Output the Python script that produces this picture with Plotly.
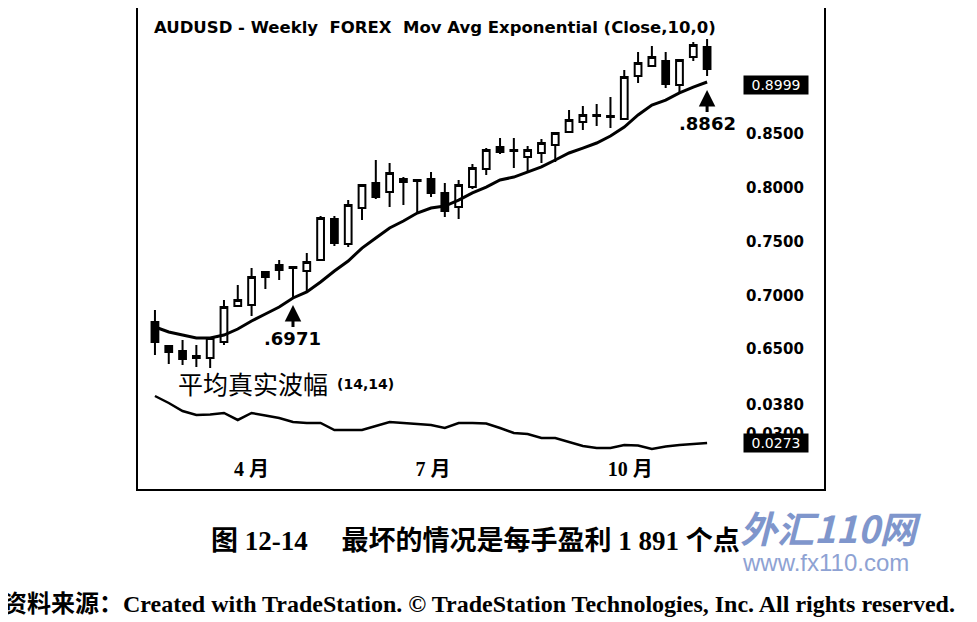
import plotly.graph_objects as go
import pandas as pd

# weekly AUDUSD bars
weeks = pd.date_range("2009-02-13", periods=41, freq="7D").strftime("%Y-%m-%d").tolist()

opens = [0.6751, 0.6528, 0.6481, 0.6435, 0.6416, 0.6565, 0.6900, 0.6910, 0.7217, 0.7282,
         0.7254, 0.7226, 0.7329, 0.7710, 0.7478, 0.7813, 0.8046, 0.7962, 0.8083, 0.8074,
         0.8083, 0.7953, 0.7822, 0.8008, 0.8176, 0.8381, 0.8353, 0.8288, 0.8325, 0.8399,
         0.8520, 0.8614, 0.8669, 0.8660, 0.8642, 0.9042, 0.9135, 0.9182, 0.8958, 0.9219,
         0.9312]
highs = [0.6863, 0.6537, 0.6584, 0.6537, 0.6612, 0.6956, 0.7096, 0.7254, 0.7226, 0.7329,
         0.7273, 0.7394, 0.7738, 0.7738, 0.7887, 0.8036, 0.8260, 0.8232, 0.8101, 0.8083,
         0.8148, 0.8046, 0.8074, 0.8223, 0.8371, 0.8465, 0.8465, 0.8390, 0.8455, 0.8520,
         0.8725, 0.8763, 0.8781, 0.8846, 0.9098, 0.9265, 0.9321, 0.9265, 0.9200, 0.9358,
         0.9386]
lows = [0.6444, 0.6360, 0.6351, 0.6332, 0.6323, 0.6537, 0.6891, 0.6807, 0.7059, 0.7142,
        0.6966, 0.7031, 0.7319, 0.7459, 0.7450, 0.7701, 0.7897, 0.7822, 0.7841, 0.7776,
        0.7915, 0.7729, 0.7710, 0.7990, 0.8120, 0.8316, 0.8185, 0.8157, 0.8232, 0.8241,
        0.8511, 0.8539, 0.8576, 0.8558, 0.8632, 0.8977, 0.9126, 0.8930, 0.8884, 0.9182,
        0.9042]
closes = [0.6565, 0.6472, 0.6407, 0.6416, 0.6602, 0.6891, 0.6956, 0.7170, 0.7170, 0.7236,
          0.7263, 0.7310, 0.7720, 0.7487, 0.7841, 0.8027, 0.7915, 0.8139, 0.8055, 0.8064,
          0.7953, 0.7785, 0.8027, 0.8185, 0.8353, 0.8334, 0.8344, 0.8353, 0.8418, 0.8511,
          0.8632, 0.8679, 0.8679, 0.8669, 0.9033, 0.9163, 0.9219, 0.8967, 0.9191, 0.9331,
          0.9107]

# Mov Avg Exponential (Close,10,0), as drawn
ema10 = [0.6705, 0.6658, 0.6630, 0.6602, 0.6602, 0.6630, 0.6686, 0.6761, 0.6826, 0.6891,
         0.6975, 0.7031, 0.7124, 0.7226, 0.7319, 0.7440, 0.7534, 0.7627, 0.7692, 0.7766,
         0.7813, 0.7831, 0.7887, 0.7953, 0.8008, 0.8074, 0.8101, 0.8148, 0.8195, 0.8260,
         0.8325, 0.8371, 0.8418, 0.8483, 0.8567, 0.8679, 0.8772, 0.8818, 0.8884, 0.8939,
         0.8986]

# average true range (14,14)
atr = [0.04053, 0.03856, 0.03631, 0.03518, 0.03532, 0.03575, 0.03378, 0.03575, 0.03504, 0.03434,
       0.03321, 0.03293, 0.03293, 0.03096, 0.03096, 0.03096, 0.03209, 0.03321, 0.03293, 0.03265,
       0.03237, 0.03152, 0.03293, 0.03293, 0.03279, 0.03152, 0.03011, 0.02983, 0.02871, 0.02871,
       0.02758, 0.02645, 0.02589, 0.02589, 0.02674, 0.02660, 0.02561, 0.02631, 0.02674, 0.02702,
       0.02730]

month_ticks = ["2009-04-03", "2009-07-04", "2009-10-12"]
month_labels = ["4 月", "7 月", "10 月"]
price_ticks = [0.65, 0.70, 0.75, 0.80, 0.85]
atr_ticks = [0.030, 0.038]

# the page body keeps its 8px margin, so the figure is 8px smaller each way
OFF = 8
W, H = 977 - OFF, 622 - OFF
def px(x):
    return (x - OFF) / W
def py(y):
    return 1 - (y - OFF) / H

bold = dict(family="DejaVu Sans", size=15, color="black", weight="bold")

fig = go.Figure()
fig.add_trace(go.Candlestick(
    x=weeks, open=opens, high=highs, low=lows, close=closes,
    increasing=dict(line=dict(color="black", width=2), fillcolor="white"),
    decreasing=dict(line=dict(color="black", width=2), fillcolor="black"),
    showlegend=False, hoverinfo="x+y"))
fig.add_trace(go.Scatter(x=weeks, y=ema10, mode="lines",
                         line=dict(color="black", width=3), showlegend=False))
fig.add_trace(go.Scatter(x=weeks, y=atr, mode="lines", xaxis="x2", yaxis="y2",
                         line=dict(color="black", width=2.5), showlegend=False))

xrange = ["2009-02-05 10:00", "2009-11-29 02:00"]
fig.update_layout(
    width=W, height=H,
    margin=dict(l=0, r=0, t=0, b=0),
    paper_bgcolor="white", plot_bgcolor="white",
    showlegend=False,
    boxgap=0.3, boxgroupgap=0.3,
    xaxis=dict(domain=[px(140), px(725)], range=xrange, type="date",
               showticklabels=False, showgrid=False, zeroline=False, showline=False,
               ticks="", rangeslider=dict(visible=False), anchor="y"),
    xaxis2=dict(domain=[px(140), px(725)], range=xrange, type="date", matches="x",
                anchor="y2", tickvals=month_ticks, ticktext=month_labels, ticks="",
                showgrid=False, zeroline=False, showline=False,
                tickfont=dict(family="Liberation Serif, Noto Sans CJK SC", size=20,
                              color="black", weight="bold")),
    yaxis=dict(domain=[py(378), py(18)], range=[0.6230, 0.9582], side="right",
               tickvals=price_ticks, tickformat=".4f", ticks="", showgrid=False,
               zeroline=False, showline=False, tickfont=bold, ticklabelstandoff=20,
               anchor="x"),
    yaxis2=dict(domain=[py(455), py(385)], range=[0.02392, 0.04363], side="right",
                tickvals=atr_ticks, tickformat=".4f", ticks="", showgrid=False,
                zeroline=False, showline=False, tickfont=bold, ticklabelstandoff=20,
                anchor="x2"),
)

# chart frame
fig.add_shape(type="rect", xref="paper", yref="paper",
              x0=px(137), x1=px(825), y0=py(490), y1=py(7),
              line=dict(color="black", width=2), layer="above")

ann = []
ann.append(dict(xref="paper", yref="paper", x=px(152), y=py(27), xanchor="left",
                yanchor="middle", showarrow=False,
                text="AUDUSD - Weekly\u00a0\u00a0FOREX\u00a0\u00a0Mov Avg Exponential (Close,10,0)",
                font=dict(family="DejaVu Sans", size=16.5, color="black", weight="bold")))
# last-value boxes on the scales
ann.append(dict(xref="paper", yref="paper", x=px(776), y=py(85), xanchor="center",
                yanchor="middle", showarrow=False,
                text="0.8999", bgcolor="black", width=62, height=16, borderpad=1,
                font=dict(family="DejaVu Sans", size=14, color="white")))
ann.append(dict(xref="paper", yref="y2", x=px(776), y=atr[-1], xanchor="center",
                yanchor="middle", showarrow=False,
                text="0.0273", bgcolor="black", width=62, height=16, borderpad=1,
                font=dict(family="DejaVu Sans", size=14, color="white")))
# arrows to the moving average
ann.append(dict(x=weeks[10], y=0.6910, xref="x", yref="y", text=".6971",
                showarrow=True, ax=0, ay=34, arrowhead=2, arrowsize=1.1, arrowwidth=3,
                arrowcolor="black",
                font=dict(family="DejaVu Sans", size=18, color="black", weight="bold")))
ann.append(dict(x=weeks[40], y=0.8912, xref="x", yref="y", text=".8862",
                showarrow=True, ax=0, ay=34, arrowhead=2, arrowsize=1.1, arrowwidth=3,
                arrowcolor="black",
                font=dict(family="DejaVu Sans", size=18, color="black", weight="bold")))
# indicator label
ann.append(dict(xref="paper", yref="paper", x=px(176), y=py(383), xanchor="left",
                yanchor="middle", showarrow=False, text="平均真实波幅",
                font=dict(family="Noto Sans CJK SC", size=25, color="black")))
ann.append(dict(xref="paper", yref="paper", x=px(335), y=py(384), xanchor="left",
                yanchor="middle", showarrow=False, text="(14,14)",
                font=dict(family="DejaVu Sans", size=14, color="black", weight="bold")))
# watermark
ann.append(dict(xref="paper", yref="paper", x=px(738), y=py(527), xanchor="left",
                yanchor="middle", showarrow=False, text="外汇110网",
                font=dict(family="Noto Sans CJK SC", size=37, color="#7f96cc",
                          weight="bold", style="italic")))
ann.append(dict(xref="paper", yref="paper", x=px(740), y=py(562), xanchor="left",
                yanchor="middle", showarrow=False, text="www.fx110.com",
                font=dict(family="Liberation Sans", size=24, color="#8ea2d3")))
# captions
ann.append(dict(xref="paper", yref="paper", x=px(475), y=py(541), xanchor="center",
                yanchor="middle", showarrow=False,
                text="图 12-14\u3000 最坏的情况是每手盈利 1 891 个点",
                font=dict(family="Liberation Serif, Noto Sans CJK SC", size=27,
                          color="black", weight="bold")))
ann.append(dict(xref="paper", yref="paper", x=px(1), y=py(604), xanchor="left",
                yanchor="middle", showarrow=False,
                text="资料来源：Created with TradeStation. © TradeStation Technologies, Inc. All rights reserved.",
                font=dict(family="Liberation Serif, Noto Sans CJK SC", size=24,
                          color="black", weight="bold")))
fig.update_layout(annotations=ann)

fig.write_html("out.html")
